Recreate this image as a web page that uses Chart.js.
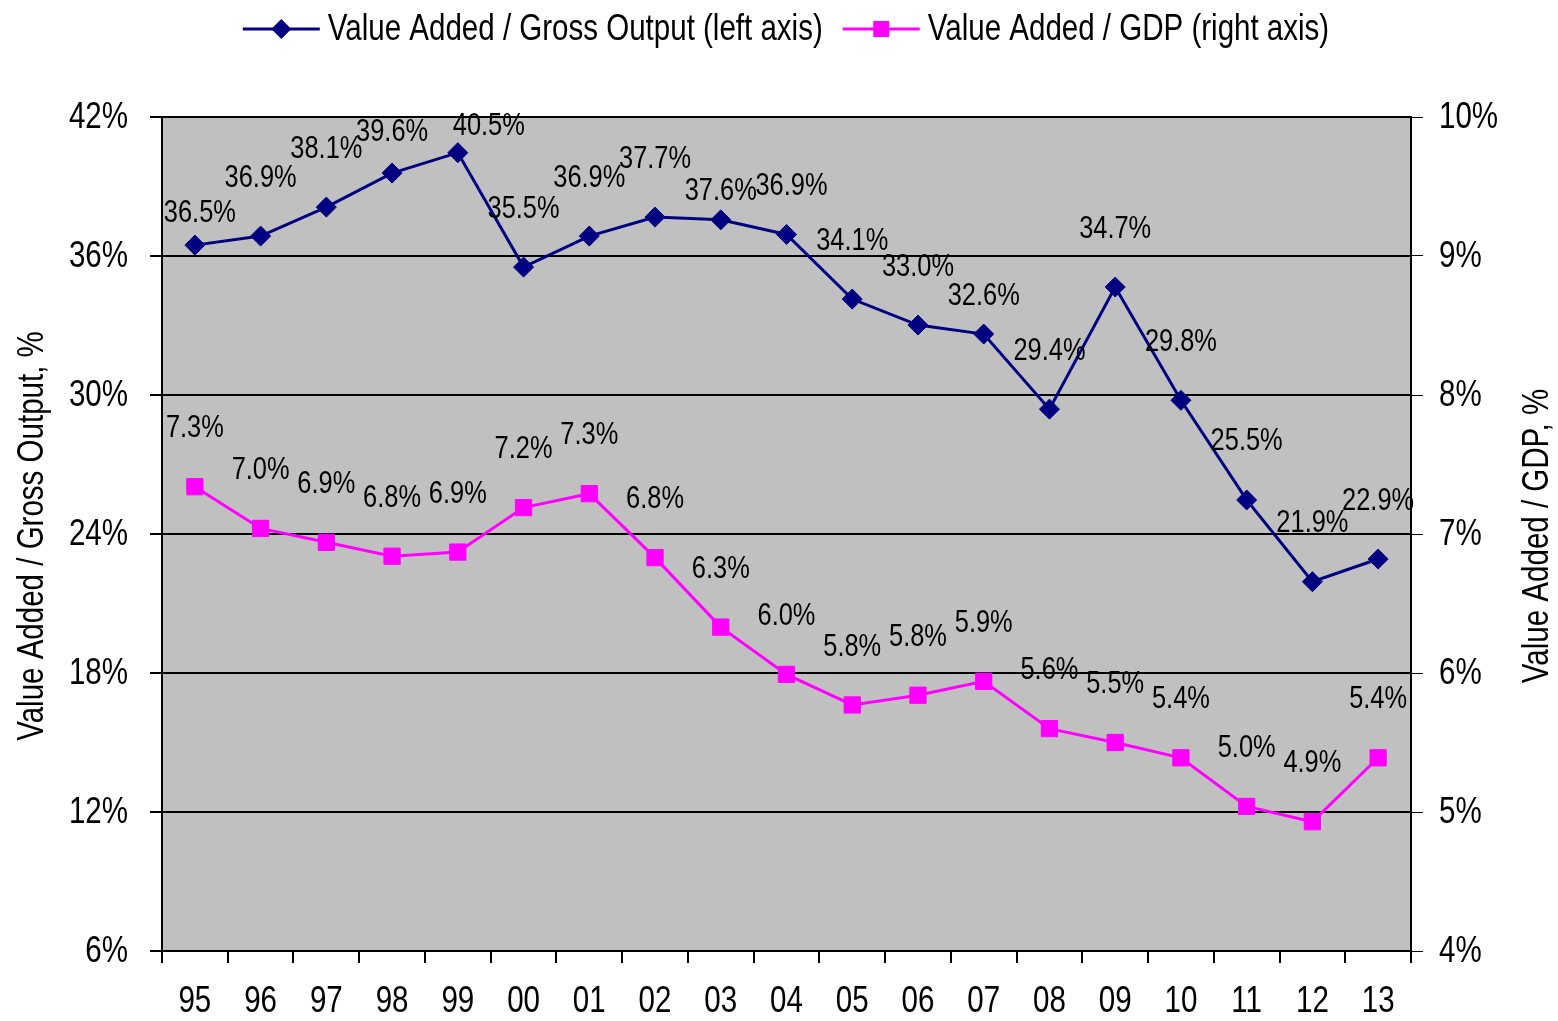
<!DOCTYPE html>
<html>
<head>
<meta charset="utf-8">
<title>Value Added ratios</title>
<script src="https://cdn.jsdelivr.net/npm/chart.js"></script>
<style>
    html, body { margin: 0; padding: 0; background: #ffffff; }
    #wrap { width: 1558px; height: 1021px; position: relative; }
</style>
</head>
<body>
<div id="wrap"><canvas id="va-chart"></canvas></div>
<script>
// ===== DATA =====
const years = ['95', '96', '97', '98', '99', '00', '01', '02', '03', '04', '05', '06', '07', '08', '09', '10', '11', '12', '13'];
const vaGrossOutput = [36.47, 36.86, 38.11, 39.58, 40.46, 35.52, 36.86, 37.68, 37.56, 36.93, 34.14, 33.02, 32.63, 29.39, 34.66, 29.77, 25.47, 21.94, 22.92];
const vaGdp = [7.34, 7.04, 6.94, 6.84, 6.87, 7.19, 7.29, 6.83, 6.33, 5.99, 5.77, 5.84, 5.94, 5.60, 5.50, 5.39, 5.04, 4.93, 5.39];
const leftTicks = [6, 12, 18, 24, 30, 36, 42];
const rightTicks = [4, 5, 6, 7, 8, 9, 10];

const seriesNames = ['Value Added / Gross Output (left axis)', 'Value Added / GDP (right axis)'];
const leftTitle = 'Value Added / Gross Output, %';
const rightTitle = 'Value Added / GDP, %';

// ===== STYLE =====
// no Arial Narrow here, so Liberation Sans is squeezed horizontally instead
const FONT = '"Liberation Sans", Arial, sans-serif';
const SQUEEZE = 0.82;
const NAVY = '#000080';
const MAGENTA = '#ff00ff';

// a few labels were moved by hand in the original to avoid overlaps
const labelNudge = [
    { 0: [5, 26], 3: [0, 17], 4: [31, 32], 8: [0, 30], 9: [5, 10], 12: [0, 20] },
    {}
];

function narrowText(ctx, txt, x, y, size, align) {
    ctx.save();
    ctx.font = size + 'px ' + FONT;
    ctx.textAlign = align;
    ctx.textBaseline = 'middle';
    ctx.translate(x, y);
    ctx.scale(SQUEEZE, 1);
    ctx.fillText(txt, 0, 0);
    ctx.restore();
}

function narrowWidth(ctx, txt, size) {
    ctx.save();
    ctx.font = size + 'px ' + FONT;
    const w = ctx.measureText(txt).width * SQUEEZE;
    ctx.restore();
    return w;
}

const plotBackground = {
    id: 'plotBackground',
    beforeDraw(chart) {
        const { ctx, chartArea: a } = chart;
        ctx.save();
        ctx.fillStyle = '#c0c0c0';
        ctx.fillRect(a.left, a.top, a.right - a.left, a.bottom - a.top);
        ctx.restore();
    }
};

const pointLabels = {
    id: 'pointLabels',
    afterDatasetsDraw(chart) {
        const ctx = chart.ctx;
        ctx.save();
        ctx.fillStyle = '#000000';
        chart.data.datasets.forEach((ds, di) => {
            const meta = chart.getDatasetMeta(di);
            meta.data.forEach((pt, i) => {
                const n = labelNudge[di][i] || [0, 0];
                narrowText(ctx, ds.data[i].toFixed(1) + '%', pt.x + n[0], pt.y - 58 + n[1], 31, 'center');
            });
        });
        ctx.restore();
    }
};

const axisText = {
    id: 'axisText',
    afterDraw(chart) {
        const { ctx, chartArea: a, scales } = chart;
        const midY = (a.top + a.bottom) / 2 + 2;
        ctx.save();
        ctx.fillStyle = '#000000';

        // tick labels
        scales.y.ticks.forEach(t => {
            narrowText(ctx, t.value + '%', a.left - 34, scales.y.getPixelForValue(t.value) + 1, 36, 'right');
        });
        scales.y1.ticks.forEach(t => {
            narrowText(ctx, t.value + '%', a.right + 28, scales.y1.getPixelForValue(t.value) + 1, 36, 'left');
        });
        years.forEach((lab, i) => {
            narrowText(ctx, lab, scales.x.getPixelForValue(i), a.bottom + 51, 36, 'center');
        });

        // axis titles, both read bottom to top
        [[33, leftTitle], [1538, rightTitle]].forEach(([x, txt]) => {
            ctx.save();
            ctx.translate(x, midY);
            ctx.rotate(-Math.PI / 2);
            narrowText(ctx, txt, 0, 0, 36, 'center');
            ctx.restore();
        });

        // legend: line with marker, then text
        const y = 29;
        const symW = 77, gap = 8, between = 20;
        const widths = seriesNames.map(s => narrowWidth(ctx, s, 36));
        const total = symW + gap + widths[0] + between + symW + gap + widths[1];
        let x = 786 - total / 2;
        const colors = [NAVY, MAGENTA];
        for (let k = 0; k < 2; k++) {
            ctx.strokeStyle = colors[k];
            ctx.fillStyle = colors[k];
            ctx.lineWidth = 3;
            ctx.beginPath();
            ctx.moveTo(x, y);
            ctx.lineTo(x + symW, y);
            ctx.stroke();
            const cx = x + symW / 2;
            if (k === 0) {
                ctx.beginPath();
                ctx.moveTo(cx, y - 10);
                ctx.lineTo(cx + 10, y);
                ctx.lineTo(cx, y + 10);
                ctx.lineTo(cx - 10, y);
                ctx.closePath();
                ctx.fill();
            } else {
                ctx.fillRect(cx - 8, y - 8, 16, 16);
            }
            ctx.fillStyle = '#000000';
            narrowText(ctx, seriesNames[k], x + symW + gap, y + 1, 36, 'left');
            x += symW + gap + widths[k] + between;
        }
        ctx.restore();
    }
};

new Chart(document.getElementById('va-chart'), {
    type: 'line',
    data: {
        labels: years,
        datasets: [
            {
                label: seriesNames[0],
                data: vaGrossOutput,
                yAxisID: 'y',
                borderColor: NAVY,
                backgroundColor: NAVY,
                borderWidth: 3,
                pointStyle: 'rectRot',
                pointRadius: 10,
                pointBorderWidth: 1,
                tension: 0
            },
            {
                label: seriesNames[1],
                data: vaGdp,
                yAxisID: 'y1',
                borderColor: MAGENTA,
                backgroundColor: MAGENTA,
                borderWidth: 3,
                pointStyle: 'rect',
                pointRadius: 11.5,
                pointBorderWidth: 1,
                tension: 0
            }
        ]
    },
    options: {
        responsive: true,
        maintainAspectRatio: false,
        animation: false,
        layout: { padding: { top: 117, left: 0, right: 0, bottom: 0 } },
        plugins: {
            legend: { display: false },
            tooltip: { enabled: false }
        },
        scales: {
            x: {
                offset: true,
                afterFit: (s) => { s.height = 70; },
                grid: {
                    offset: true,
                    drawOnChartArea: false,
                    color: '#000000',
                    lineWidth: 2,
                    tickLength: 12
                },
                border: { color: '#000000', width: 2 },
                ticks: { display: false, autoSkip: false }
            },
            y: {
                position: 'left',
                min: leftTicks[0],
                max: leftTicks[leftTicks.length - 1],
                afterFit: (s) => { s.width = 162; },
                afterBuildTicks: (s) => { s.ticks = leftTicks.map(v => ({ value: v })); },
                grid: { color: '#000000', lineWidth: 2, tickLength: 12 },
                border: { color: '#000000', width: 2 },
                ticks: { display: false }
            },
            y1: {
                position: 'right',
                min: rightTicks[0],
                max: rightTicks[rightTicks.length - 1],
                afterFit: (s) => { s.width = 147; },
                afterBuildTicks: (s) => { s.ticks = rightTicks.map(v => ({ value: v })); },
                grid: { drawOnChartArea: false, color: '#000000', lineWidth: 1, tickLength: 12 },
                border: { color: '#000000', width: 2 },
                ticks: { display: false }
            }
        }
    },
    plugins: [plotBackground, pointLabels, axisText]
});
</script>
</body>
</html>
